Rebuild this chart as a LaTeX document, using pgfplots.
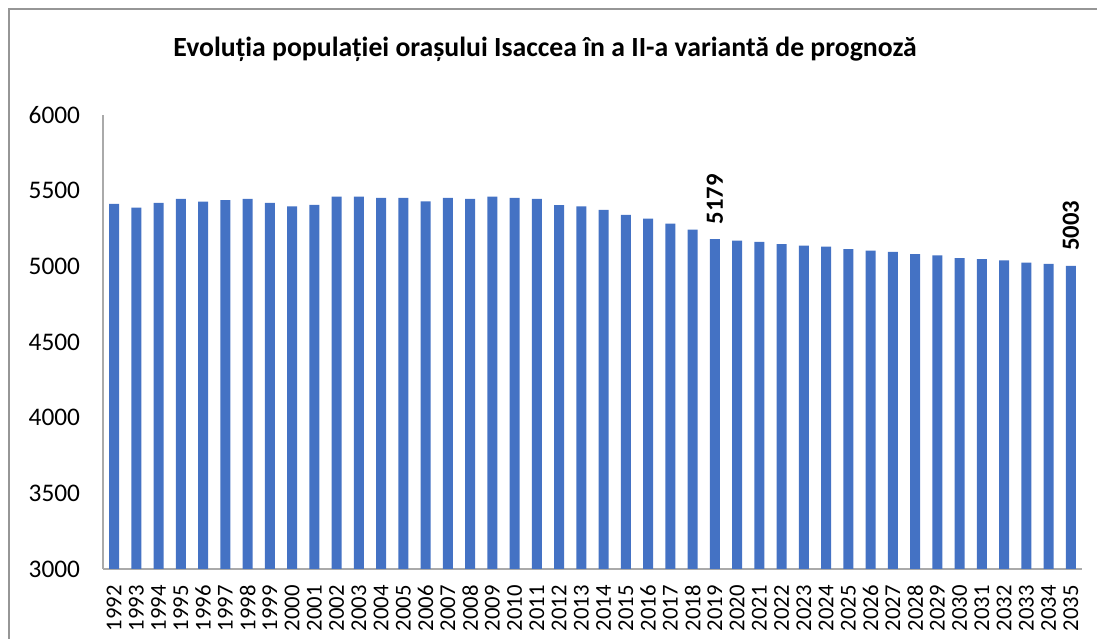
\documentclass[border=0pt]{standalone}
\usepackage{fontspec}
\setmainfont{Carlito}
\usepackage{pgfplots}
\pgfplotsset{compat=1.18}
\definecolor{barblue}{RGB}{68,114,196}
\definecolor{axgray}{RGB}{170,170,170}
\definecolor{framegray}{RGB}{150,150,150}
\begin{document}
\begin{tikzpicture}
\path[use as bounding box] (-77.25pt,-52.5pt) rectangle (745.5pt,426.75pt);
\draw[framegray, line width=0.9pt] (-70.5pt,-53pt) -- (-70.5pt,420pt) -- (746pt,420pt);
\node[font=\fontsize{20.8}{24}\selectfont\bfseries] at (331.5pt,389.5pt) {Evoluția populației orașului Isaccea în a II-a variantă de prognoză};
\begin{axis}[
  at={(0,0)}, anchor=south west,
  scale only axis, width=734.25pt, height=340.5pt,
  ymin=3000, ymax=6000, ytick={3000,3500,...,6000},
  xmin=-0.5, xmax=43.5,
  xtick={0,...,43},
  xticklabels={1992,1993,1994,1995,1996,1997,1998,1999,2000,2001,2002,2003,2004,2005,2006,2007,2008,2009,2010,2011,2012,2013,2014,2015,2016,2017,2018,2019,2020,2021,2022,2023,2024,2025,2026,2027,2028,2029,2030,2031,2032,2033,2034,2035},
  axis x line*=bottom, axis y line*=left,
  axis line style={axgray, line width=0.9pt, -},
  major tick length=0pt,
  /pgf/number format/assume math mode=true,
  /pgf/number format/1000 sep={},
  yticklabel style={font=\fontsize{19}{21}\selectfont, anchor=east, inner sep=0pt, xshift=-17pt},
  xticklabel style={font=\fontsize{17}{20}\selectfont, yshift=-12pt, rotate=90, anchor=east, inner sep=0pt},
  clip=false,
]
\addplot[ybar, bar width=7.5pt, bar shift=0pt, fill=barblue, draw=none] coordinates {
(0,5412) (1,5388) (2,5419) (3,5445) (4,5427) (5,5437) (6,5445) (7,5419) (8,5397) (9,5406)
(10,5461) (11,5461) (12,5452) (13,5452) (14,5430) (15,5452) (16,5445) (17,5461) (18,5452) (19,5445)
(20,5404) (21,5397) (22,5373) (23,5340) (24,5315) (25,5282) (26,5243) (27,5179) (28,5170) (29,5162)
(30,5147) (31,5137) (32,5131) (33,5113) (34,5104) (35,5095) (36,5080) (37,5073) (38,5055) (39,5047)
(40,5040) (41,5024) (42,5016) (43,5003)};
\addplot[ybar, bar width=7.5pt, bar shift=0pt, draw=none, fill=none,
  nodes near coords,
  every node near coord/.append style={font=\fontsize{18.5}{20}\selectfont\bfseries, yshift=11pt, rotate=90, anchor=west, inner sep=0pt}]
  coordinates {(27,5179) (43,5003)};
\end{axis}
\end{tikzpicture}
\end{document}
